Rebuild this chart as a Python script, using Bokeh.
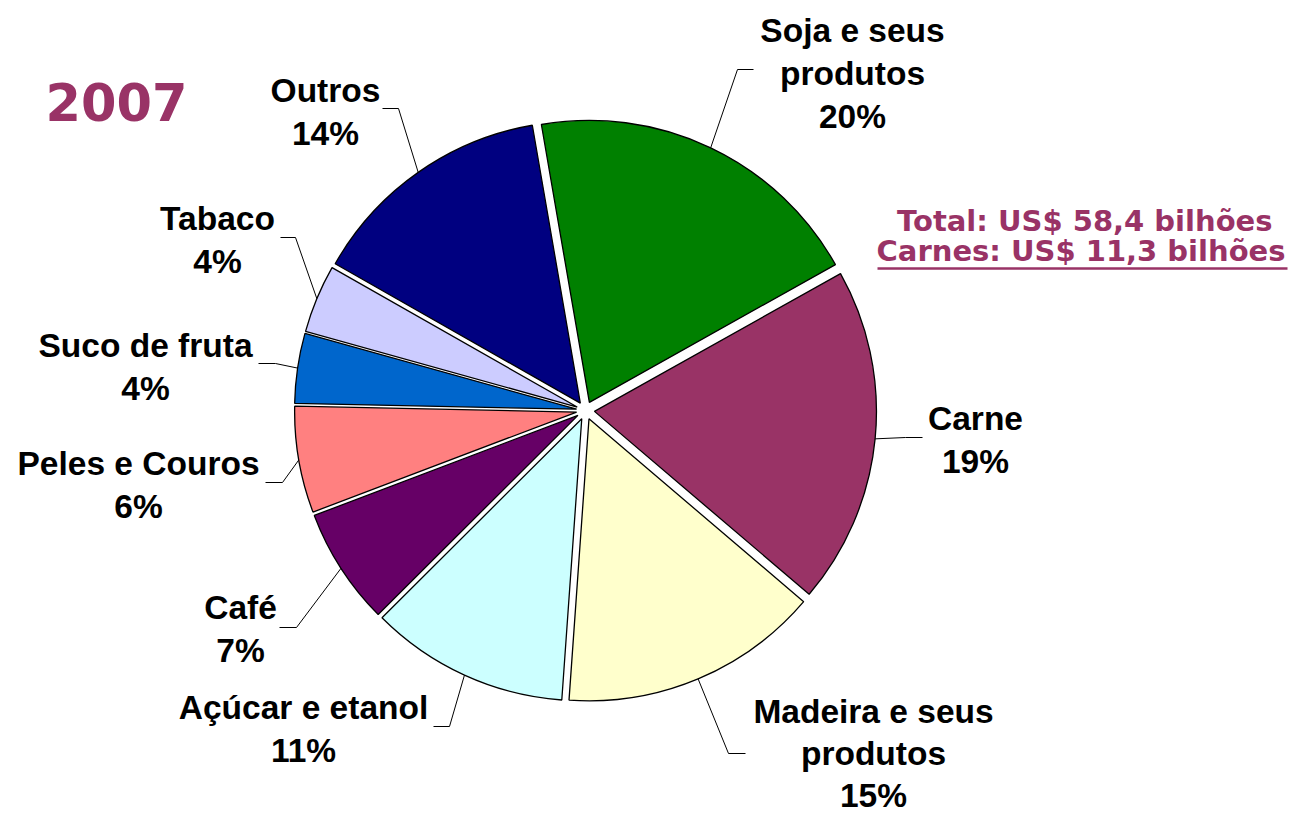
import math
from bokeh.plotting import figure
from bokeh.models import Range1d, ColumnDataSource
from bokeh.core.properties import value
from bokeh.embed import file_html
from bokeh.resources import INLINE

# ---- data (share of exports, %) ----
categories = ["Soja e seus produtos", "Carne", "Madeira e seus produtos", "Açúcar e etanol",
              "Café", "Peles e Couros", "Suco de fruta", "Tabaco", "Outros"]
shares = [19.6, 19.35, 14.9, 11.4, 6.7, 6.1, 4.0, 3.9, 14.05]
label_lines = [["Soja e seus", "produtos"], ["Carne"], ["Madeira e seus", "produtos"],
               ["Açúcar e etanol"], ["Café"], ["Peles e Couros"], ["Suco de fruta"],
               ["Tabaco"], ["Outros"]]
colors = ["#008000", "#993366", "#FFFFCC", "#CCFFFF", "#660066", "#FF8080",
          "#0066CC", "#CCCCFF", "#000080"]
title_text = "2007"
total_text = "Total: US$ 58,4 bilhões"
carnes_text = "Carnes: US$ 11,3 bilhões"

# ---- layout (screen pixels, y down) ----
W, H = 1290, 815
CX, CY = 585, 410
R = 282
EXPLODE = 9
START_DEG = -9.8  # first slice angle, clockwise from 12 o'clock
LINE_STEP = 43
label_pos = [(852, 30), (975, 418), (873, 711), (303, 707), (240, 607),
             (138, 463), (145, 345), (217, 218), (325, 90)]
label_step = [43, 43, 42, 43, 43, 43, 43, 43, 43]
elbows = [(737, 69, 753), (905, 437, 922), (728, 753, 745), (449, 726, 433),
          (296, 627, 279), (282, 482, 265), (275, 363, 258), (295, 237, 280),
          (398, 108, 382)]

def sy(y):
    return H - y

p = figure(width=W, height=H, x_range=Range1d(0, W), y_range=Range1d(0, H),
           output_backend="svg", toolbar_location=None, min_border=0)
p.axis.visible = False
p.grid.visible = False
p.outline_line_color = None
p.background_fill_color = "white"
p.border_fill_color = "white"

total = sum(shares)
acc = START_DEG
xs, ys, st, en, bis = [], [], [], [], []
for v in shares:
    span = 360.0 * v / total
    b = math.radians(acc + span / 2)
    cx = CX + EXPLODE * math.sin(b)
    cy = sy(CY) + EXPLODE * math.cos(b)
    xs.append(cx); ys.append(cy)
    st.append(math.pi / 2 - math.radians(acc))
    en.append(math.pi / 2 - math.radians(acc + span))
    bis.append(b)
    acc += span

src = ColumnDataSource(dict(x=xs, y=ys, start=st, end=en, color=colors, cat=categories))
p.wedge(x="x", y="y", radius=R, start_angle="start", end_angle="end", direction="clock",
        fill_color="color", line_color="black", line_width=1.3, source=src)

# leader lines
lx, ly = [], []
for i, b in enumerate(bis):
    x0 = xs[i] + R * math.sin(b)
    y0 = ys[i] + R * math.cos(b)
    ex, ey, hx = elbows[i]
    lx.append([x0, ex, hx])
    ly.append([y0, sy(ey), sy(ey)])
p.multi_line(xs=lx, ys=ly, line_color="black", line_width=1)

# labels
tx, ty, tt = [], [], []
for i, v in enumerate(shares):
    lines = label_lines[i] + [f"{round(v)}%"]
    x, y = label_pos[i]
    for k, t in enumerate(lines):
        tx.append(x); ty.append(sy(y + k * label_step[i])); tt.append(t)
p.text(x=tx, y=ty, text=tt, text_align="center", text_baseline="middle",
       text_font=value("Liberation Sans"), text_font_style="bold",
       text_font_size="33.5px", text_color="black")

# title and totals
p.text(x=[45], y=[sy(101)], text=[title_text], text_align="left", text_baseline="middle",
       text_font=value("DejaVu Sans"), text_font_style="bold", text_font_size="51px",
       text_color="#993366")
p.text(x=[1272, 1285], y=[sy(220), sy(250)], text=[total_text, carnes_text],
       text_align="right", text_baseline="middle",
       text_font=value("DejaVu Sans"), text_font_style="bold", text_font_size="29px",
       text_color="#993366")
p.line(x=[877, 1287], y=[sy(268), sy(268)], line_color="#993366", line_width=2.5)

open("out.html", "w").write(file_html(p, INLINE))
